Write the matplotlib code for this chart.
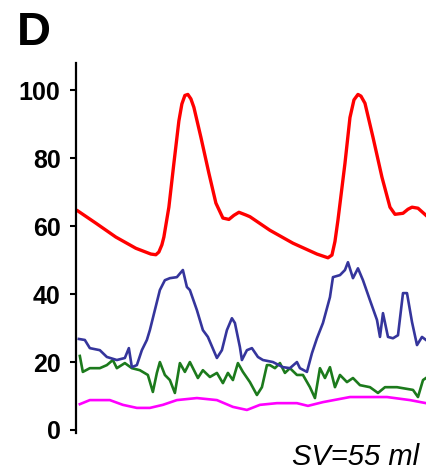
import matplotlib
matplotlib.use("Agg")
import matplotlib.pyplot as plt

# time (s) and values
t_red = [0.01, 0.10, 0.20, 0.30, 0.375, 0.40, 0.415, 0.43, 0.44, 0.465, 0.49, 0.515, 0.53, 0.545,
         0.56, 0.575, 0.59, 0.625, 0.665, 0.70, 0.735, 0.765, 0.79, 0.815, 0.85, 0.87, 0.97,
         1.085, 1.205, 1.26, 1.28, 1.295, 1.31, 1.345, 1.37, 1.39, 1.41, 1.425, 1.445, 1.485,
         1.53, 1.57, 1.595, 1.635, 1.66, 1.68, 1.71, 1.75]
red = [64.5, 60.9, 56.8, 53.5, 51.8, 51.6, 52.4, 54.5, 56.8, 65.6, 78.5, 91.0, 96.0, 98.5,
       98.8, 97.5, 95.0, 86.2, 75.6, 66.8, 62.4, 62.0, 63.2, 64.1, 63.3, 62.8, 58.8,
       55.0, 51.8, 50.7, 51.5, 55.5, 61.8, 78.5, 92.0, 97.2, 98.8, 98.3, 96.2, 86.2,
       74.4, 65.6, 63.5, 63.8, 65.0, 65.6, 65.3, 63.2]

t_blue = [0.015, 0.045, 0.07, 0.12, 0.155, 0.205, 0.245, 0.265, 0.28, 0.305, 0.33, 0.355,
          0.37, 0.395, 0.42, 0.445, 0.47, 0.505, 0.535, 0.555, 0.57, 0.605, 0.635, 0.66,
          0.705, 0.73, 0.755, 0.78, 0.795, 0.82, 0.83, 0.855, 0.88, 0.91, 0.935, 0.985,
          1.035, 1.07, 1.105, 1.12, 1.155, 1.18, 1.205, 1.235, 1.27, 1.285, 1.32, 1.345,
          1.36, 1.385, 1.41, 1.435, 1.47, 1.505, 1.52, 1.535, 1.56, 1.585, 1.61, 1.635,
          1.655, 1.68, 1.705, 1.73, 1.75]
blue = [26.8, 26.5, 24.1, 23.5, 21.5, 20.6, 21.2, 24.1, 18.5, 19.1, 23.5, 26.5,
        29.4, 35.3, 41.2, 44.1, 44.7, 45.0, 47.1, 42.1, 41.2, 35.3, 29.4, 27.4,
        21.2, 23.5, 29.4, 32.9, 31.5, 24.4, 20.6, 23.5, 24.1, 21.5, 20.6, 20.0,
        18.5, 18.2, 20.0, 18.2, 17.1, 22.6, 27.0, 31.5, 39.1, 45.0, 45.6, 47.1,
        49.4, 44.7, 47.6, 44.1, 38.2, 32.4, 27.4, 34.4, 27.4, 27.0, 27.9, 40.3,
        40.3, 31.8, 25.0, 27.4, 26.5]

t_green = [0.02, 0.035, 0.07, 0.12, 0.155, 0.185, 0.205, 0.245, 0.28, 0.32, 0.36, 0.385,
           0.405, 0.42, 0.445, 0.47, 0.495, 0.52, 0.545, 0.57, 0.61, 0.635, 0.67, 0.705,
           0.735, 0.76, 0.785, 0.81, 0.835, 0.87, 0.905, 0.93, 0.955, 0.97, 0.995, 1.02,
           1.045, 1.07, 1.105, 1.135, 1.17, 1.195, 1.22, 1.245, 1.27, 1.295, 1.32, 1.355,
           1.385, 1.42, 1.47, 1.51, 1.545, 1.605, 1.655, 1.685, 1.71, 1.735, 1.75]
green = [21.8, 17.1, 18.2, 18.2, 19.1, 20.6, 18.2, 19.7, 18.2, 17.6, 16.2, 11.2,
         16.8, 20.0, 16.2, 14.7, 10.9, 19.7, 17.1, 20.0, 15.3, 17.6, 15.6, 16.8,
         13.8, 16.8, 14.7, 19.7, 17.1, 14.1, 10.3, 12.6, 19.1, 19.1, 18.2, 19.7,
         16.8, 18.2, 16.2, 16.2, 12.6, 9.4, 18.2, 15.3, 18.5, 12.6, 16.2, 14.1,
         15.3, 13.2, 12.6, 10.9, 12.6, 12.6, 12.1, 11.8, 9.7, 14.7, 15.3]

t_mag = [0.02, 0.07, 0.17, 0.235, 0.305, 0.37, 0.435, 0.505, 0.605, 0.705, 0.785, 0.855,
         0.92, 1.005, 1.105, 1.16, 1.235, 1.37, 1.47, 1.555, 1.67, 1.75]
mag = [7.6, 8.8, 8.8, 7.4, 6.5, 6.5, 7.4, 8.8, 9.4, 8.8, 6.8, 5.9,
       7.4, 7.9, 7.9, 7.1, 8.2, 9.7, 9.7, 9.7, 8.8, 7.9]

yticks = [0, 20, 40, 60, 80, 100]

plt.rcParams['font.family'] = ['Liberation Sans', 'DejaVu Sans']

fig = plt.figure(figsize=(4.26, 4.74), dpi=100)
ax = fig.add_axes([0.178, 0.0857, 0.822, 0.781])

ax.plot(t_mag, mag, color='#ff00ff', lw=1.9)
ax.plot(t_green, green, color='#1c7a1c', lw=1.9)
ax.plot(t_blue, blue, color='#35359c', lw=1.9)
ax.plot(t_red, red, color='#ff0000', lw=2.4)

ax.set_xlim(0, 1.75)
ax.set_ylim(-1, 108)
ax.set_yticks(yticks)
ax.set_yticklabels([str(v) for v in yticks], fontsize=18, fontweight='bold')
ax.tick_params(axis='y', direction='out', length=4, width=1.5, pad=7)
ax.set_xticks([])
for s in ['top', 'right', 'bottom']:
    ax.spines[s].set_visible(False)
ax.spines['left'].set_linewidth(1.6)

fig.text(17 / 426, (474 - 45) / 474, 'D', fontsize=34, fontweight='bold', va='baseline')
fig.text(0.985, 0.02, 'SV=55 ml', fontsize=21, style='italic', ha='right', va='baseline')

fig.savefig('out.png', dpi=100)
